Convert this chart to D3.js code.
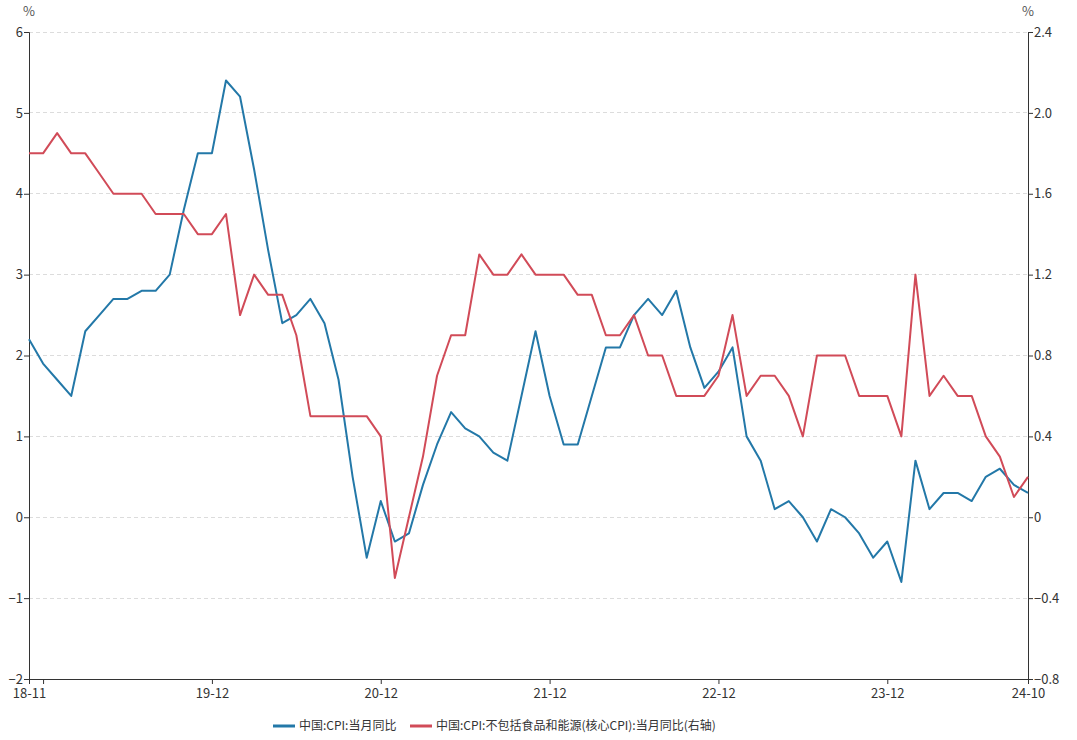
<!DOCTYPE html>
<html><head><meta charset="utf-8">
<script src="https://cdn.jsdelivr.net/npm/d3@7"></script>
<style>
body{margin:0;background:#fff;}
svg{display:block;font-family:"Microsoft YaHei","Noto Sans CJK SC","Noto Sans",sans-serif;}
</style></head>
<body><svg id="chart" width="1077" height="740"></svg>
<script>
const months = ["18-11","18-12",
"19-01","19-02","19-03","19-04","19-05","19-06","19-07","19-08","19-09","19-10","19-11","19-12",
"20-01","20-02","20-03","20-04","20-05","20-06","20-07","20-08","20-09","20-10","20-11","20-12",
"21-01","21-02","21-03","21-04","21-05","21-06","21-07","21-08","21-09","21-10","21-11","21-12",
"22-01","22-02","22-03","22-04","22-05","22-06","22-07","22-08","22-09","22-10","22-11","22-12",
"23-01","23-02","23-03","23-04","23-05","23-06","23-07","23-08","23-09","23-10","23-11","23-12",
"24-01","24-02","24-03","24-04","24-05","24-06","24-07","24-08","24-09","24-10"];
const cpi = [2.2,1.9,
1.7,1.5,2.3,2.5,2.7,2.7,2.8,2.8,3.0,3.8,4.5,4.5,
5.4,5.2,4.3,3.3,2.4,2.5,2.7,2.4,1.7,0.5,-0.5,0.2,
-0.3,-0.2,0.4,0.9,1.3,1.1,1.0,0.8,0.7,1.5,2.3,1.5,
0.9,0.9,1.5,2.1,2.1,2.5,2.7,2.5,2.8,2.1,1.6,1.8,
2.1,1.0,0.7,0.1,0.2,0.0,-0.3,0.1,0.0,-0.2,-0.5,-0.3,
-0.8,0.7,0.1,0.3,0.3,0.2,0.5,0.6,0.4,0.3];
const coreCpi = [1.8,1.8,
1.9,1.8,1.8,1.7,1.6,1.6,1.6,1.5,1.5,1.5,1.4,1.4,
1.5,1.0,1.2,1.1,1.1,0.9,0.5,0.5,0.5,0.5,0.5,0.4,
-0.3,0.0,0.3,0.7,0.9,0.9,1.3,1.2,1.2,1.3,1.2,1.2,
1.2,1.1,1.1,0.9,0.9,1.0,0.8,0.8,0.6,0.6,0.6,0.7,
1.0,0.6,0.7,0.7,0.6,0.4,0.8,0.8,0.8,0.6,0.6,0.6,
0.4,1.2,0.6,0.7,0.6,0.6,0.4,0.3,0.1,0.2];
const leftTicks = [-2,-1,0,1,2,3,4,5,6];
const rightTicks = [-0.8,-0.4,0,0.4,0.8,1.2,1.6,2,2.4];
const xTickMonths = ["18-11","18-12","19-12","20-12","21-12","22-12","23-12","24-10"];
const xLabelMonths = ["18-11","19-12","20-12","21-12","22-12","23-12","24-10"];
const seriesNames = ["中国:CPI:当月同比","中国:CPI:不包括食品和能源(核心CPI):当月同比(右轴)"];
const colors = ["#2378a8","#d14b58"];

const svg = d3.select("#chart");
const L = 29, R = 1028, T = 32, B = 679;
const x = d3.scalePoint().domain(months).range([L, R]);
const yL = d3.scaleLinear().domain([-2, 6]).range([B, T]);
const yR = d3.scaleLinear().domain([-0.8, 2.4]).range([B, T]);
const textColor = "#333";

// grid
svg.append("g").selectAll("line").data(leftTicks.filter(d => d !== -2)).join("line")
  .attr("x1", L).attr("x2", R).attr("y1", d => yL(d)).attr("y2", d => yL(d))
  .attr("stroke", "#dcdcdc").attr("stroke-dasharray", "4,3").attr("shape-rendering","crispEdges");

// left axis
const gl = svg.append("g").attr("transform", `translate(${L},0)`)
  .call(d3.axisLeft(yL).tickValues(leftTicks).tickSize(5).tickFormat(d3.format("d")));
// right axis
const gr = svg.append("g").attr("transform", `translate(${R},0)`)
  .call(d3.axisRight(yR).tickValues(rightTicks).tickSize(5).tickFormat(d => d === 0 ? "0" : d3.format(".1f")(d)));
// bottom axis
const gb = svg.append("g").attr("transform", `translate(0,${B})`)
  .call(d3.axisBottom(x).tickValues(xTickMonths).tickSize(5)
    .tickFormat(d => xLabelMonths.includes(d) ? d : ""));
[gl, gr, gb].forEach(g => {
  g.select(".domain").attr("stroke", "#333").attr("stroke-width", 1);
  g.selectAll(".tick line").attr("stroke", "#333");
  g.selectAll(".tick text").attr("fill", textColor).style("font-size", "13px")
   .style("font-family", '"Microsoft YaHei","Noto Sans CJK SC","Noto Sans",sans-serif');
});
gl.selectAll(".tick text").attr("x", -6);
gr.selectAll(".tick text").attr("x", 6);
gb.selectAll(".tick text").attr("y", 10);

// unit labels
svg.append("text").attr("x", L).attr("y", 16).attr("text-anchor", "middle")
  .attr("fill", "#555").style("font-size", "13px").text("%");
svg.append("text").attr("x", R).attr("y", 16).attr("text-anchor", "middle")
  .attr("fill", "#555").style("font-size", "13px").text("%");

// lines
const lineL = d3.line().x((d, i) => x(months[i])).y(d => yL(d));
const lineR = d3.line().x((d, i) => x(months[i])).y(d => yR(d));
svg.append("path").datum(cpi).attr("d", lineL).attr("fill", "none")
  .attr("stroke", colors[0]).attr("stroke-width", 2).attr("stroke-linejoin","round");
svg.append("path").datum(coreCpi).attr("d", lineR).attr("fill", "none")
  .attr("stroke", colors[1]).attr("stroke-width", 2).attr("stroke-linejoin","round");

// legend
const leg = svg.append("g").attr("transform", "translate(0,726)");
const items = [{x: 273, name: seriesNames[0], c: colors[0]}, {x: 410, name: seriesNames[1], c: colors[1]}];
items.forEach(it => {
  leg.append("line").attr("x1", it.x).attr("x2", it.x + 22).attr("y1", 0).attr("y2", 0)
    .attr("stroke", it.c).attr("stroke-width", 3);
  leg.append("text").attr("x", it.x + 26).attr("y", 0).attr("dy", "0.35em")
    .attr("fill", textColor).style("font-size", "12px").text(it.name);
});
</script></body></html>
